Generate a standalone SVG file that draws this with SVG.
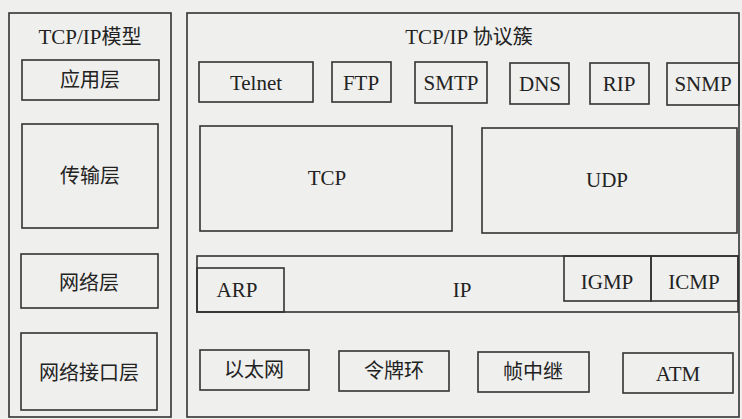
<svg xmlns="http://www.w3.org/2000/svg" width="742" height="419" viewBox="0 0 742 419">
<style>
.bx{fill:none;stroke:#333;stroke-width:1.6}
.t{font-family:"Liberation Serif","Noto Sans CJK SC",serif;font-size:21px;fill:#222;text-anchor:middle}
.c{font-family:"Noto Sans CJK SC","Noto Sans CJK JP",sans-serif;font-size:20px;fill:#222;text-anchor:middle}
.ct{font-family:"Noto Sans CJK SC","Noto Sans CJK JP",sans-serif;font-size:20px}
</style>
<rect width="742" height="419" fill="#efefed"/>
<g id="model">
<rect class="bx" x="9" y="13" width="162" height="404"/>
<text class="t" x="90" y="44">TCP/IP<tspan class="ct">模型</tspan></text>
</g>
<g id="app"><rect class="bx" x="22" y="60" width="137" height="40"/><text class="c" x="90" y="87">应用层</text></g>
<g id="transport"><rect class="bx" x="22" y="124" width="136" height="104"/><text class="c" x="90" y="183">传输层</text></g>
<g id="network"><rect class="bx" x="21" y="254" width="137" height="54"/><text class="c" x="89" y="290">网络层</text></g>
<g id="netif"><rect class="bx" x="21" y="333" width="136" height="77"/><text class="c" x="89" y="380">网络接口层</text></g>

<g id="suite">
<rect class="bx" x="187" y="13" width="552" height="404"/>
<text class="t" x="469" y="44">TCP/IP <tspan class="ct">协议簇</tspan></text>
</g>
<g id="telnet"><rect class="bx" x="199" y="62" width="114" height="40"/><text class="t" x="256" y="90">Telnet</text></g>
<g id="ftp"><rect class="bx" x="332" y="62" width="59" height="40"/><text class="t" x="361" y="90">FTP</text></g>
<g id="smtp"><rect class="bx" x="415" y="62" width="72" height="41"/><text class="t" x="451" y="90">SMTP</text></g>
<g id="dns"><rect class="bx" x="510" y="63" width="59" height="41"/><text class="t" x="540" y="91">DNS</text></g>
<g id="rip"><rect class="bx" x="590" y="63" width="59" height="41"/><text class="t" x="619" y="91">RIP</text></g>
<g id="snmp"><rect class="bx" x="667" y="63" width="72" height="42"/><text class="t" x="703" y="91">SNMP</text></g>
<g id="tcp"><rect class="bx" x="200" y="126" width="252" height="105"/><text class="t" x="327" y="185">TCP</text></g>
<g id="udp"><rect class="bx" x="482" y="128" width="255" height="105"/><text class="t" x="607" y="187">UDP</text></g>
<g id="ip"><rect class="bx" x="197" y="256" width="541" height="56"/><text class="t" x="462" y="297">IP</text></g>
<g id="arp"><rect class="bx" x="197" y="268" width="87" height="44"/><text class="t" x="237" y="297">ARP</text></g>
<g id="igmp"><rect class="bx" x="564" y="256" width="87" height="45"/><text class="t" x="607" y="289">IGMP</text></g>
<g id="icmp"><rect class="bx" x="651" y="256" width="87" height="45"/><text class="t" x="694" y="289">ICMP</text></g>
<g id="eth"><rect class="bx" x="200" y="350" width="109" height="40"/><text class="c" x="254" y="377">以太网</text></g>
<g id="token"><rect class="bx" x="339" y="351" width="110" height="40"/><text class="c" x="394" y="378">令牌环</text></g>
<g id="frame"><rect class="bx" x="478" y="352" width="111" height="40"/><text class="c" x="533" y="379">帧中继</text></g>
<g id="atm"><rect class="bx" x="623" y="353" width="110" height="40"/><text class="t" x="678" y="381">ATM</text></g>
<g id="connectors"></g>
</svg>
